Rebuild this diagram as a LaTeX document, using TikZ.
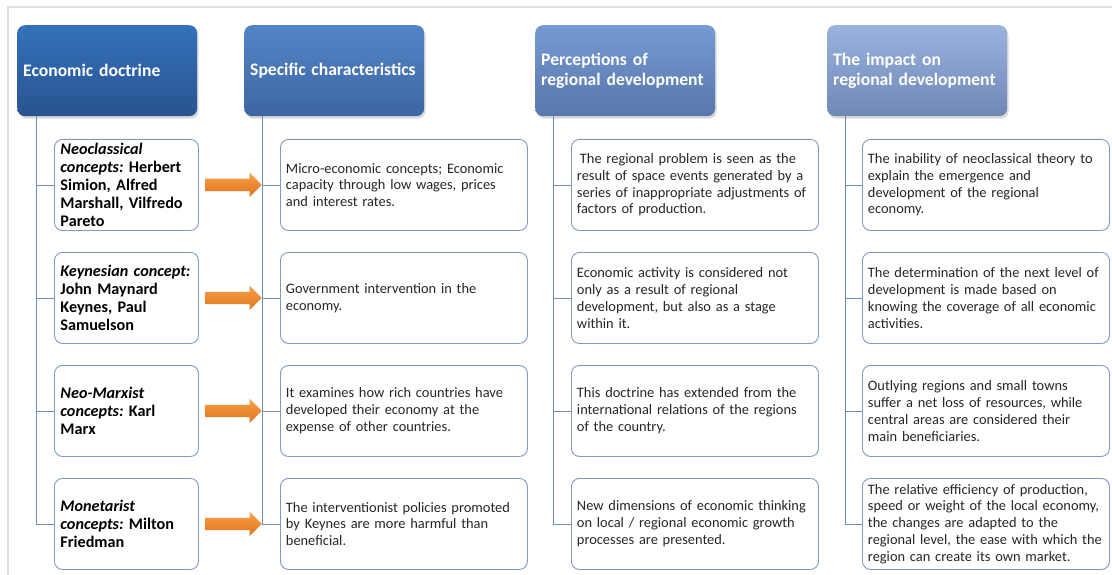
\documentclass[tikz,border=0pt]{standalone}
\usepackage{fontspec}
\setmainfont{Carlito}
\usetikzlibrary{shapes.arrows,shadows}

\definecolor{headone}{HTML}{3571BB}
\definecolor{headonedk}{HTML}{28548F}
\definecolor{headtwo}{HTML}{5384C6}
\definecolor{headtwodk}{HTML}{3D66A2}
\definecolor{headthree}{HTML}{759AD3}
\definecolor{headthreedk}{HTML}{5877AA}
\definecolor{headfour}{HTML}{99B2DE}
\definecolor{headfourdk}{HTML}{7088B6}
\definecolor{boxline}{HTML}{8199C2}
\definecolor{linkblue}{HTML}{6E8DC0}
\definecolor{pushlt}{HTML}{F8A04A}
\definecolor{pushdk}{HTML}{E0731B}

\frenchspacing
\begin{document}
\begin{tikzpicture}[x=1pt, y=-1pt,
  head/.style={rounded corners=8pt, minimum width=180pt, minimum height=91pt,
    text width=168pt, inner xsep=6pt, align=left, anchor=north west,
    text=white, font=\fontsize{17.6}{20.5}\selectfont\bfseries,
    drop shadow={shadow xshift=1.5pt, shadow yshift=-2.5pt, opacity=0.3}},
  school/.style={draw=boxline, line width=0.9pt, rounded corners=8pt, fill=white,
    minimum width=144pt, minimum height=91pt, text width=132pt, inner xsep=6pt,
    align=left, anchor=north west, font=\fontsize{16.2}{18}\selectfont\bfseries},
  item/.style={draw=boxline, line width=0.9pt, rounded corners=8pt, fill=white,
    minimum width=247pt, minimum height=91pt, text width=236pt, inner xsep=5.5pt,
    align=left, anchor=north west, text=black!85,
    font=\fontsize{14.4}{16.8}\selectfont},
  link/.style={draw=linkblue, line width=0.8pt},
  push/.style={single arrow, draw=none, anchor=tip, inner sep=6pt,
    single arrow head extend=6pt, minimum height=56pt,
    top color=pushlt, bottom color=pushdk}
]
  \useasboundingbox (0,0) rectangle (1112,575);
  \draw[black!12, line width=1.5pt] (1112,7) -- (8,7) -- (8,575);

  % column heads
  \node[head, top color=headone, bottom color=headonedk] (doctrine) at (17,25)
    {Economic doctrine};
  \node[head, top color=headtwo, bottom color=headtwodk] (traits) at (244,25)
    {Specific characteristics};
  \node[head, top color=headthree, bottom color=headthreedk] (views) at (535,25)
    {Perceptions of\\regional development};
  \node[head, top color=headfour, bottom color=headfourdk] (impact) at (827,25)
    {The impact on\\regional development};

  % doctrines
  \node[school] (d1) at (54,139) {\textit{Neoclassical}\\\textit{concepts:} Herbert\\Simion, Alfred\\Marshall, Vilfredo\\Pareto};
  \node[school] (d2) at (54,252) {\textit{Keynesian concept:}\\John Maynard\\Keynes, Paul\\Samuelson};
  \node[school] (d3) at (54,365) {\textit{Neo-Marxist}\\\textit{concepts:} Karl\\Marx};
  \node[school] (d4) at (54,478) {\textit{Monetarist}\\\textit{concepts:} Milton\\Friedman};

  % characteristics
  \node[item] (t1) at (280,139) {Micro-economic concepts; Economic\\capacity through low wages, prices\\and interest rates.};
  \node[item] (t2) at (280,252) {Government intervention in the\\economy.};
  \node[item] (t3) at (280,365) {It examines how rich countries have\\developed their economy at the\\expense of other countries.};
  \node[item] (t4) at (280,478) {The interventionist policies promoted\\by Keynes are more harmful than\\beneficial.};

  % perceptions
  \node[item] (v1) at (571,139) {\hspace{3pt}The regional problem is seen as the\\result of space events generated by a\\series of inappropriate adjustments of\\factors of production.};
  \node[item] (v2) at (571,252) {Economic activity is considered not\\only as a result of regional\\development, but also as a stage\\within it.};
  \node[item] (v3) at (571,365) {This doctrine has extended from the\\international relations of the regions\\of the country.};
  \node[item] (v4) at (571,478) {New dimensions of economic thinking\\on local / regional economic growth\\processes are presented.};

  % impact
  \node[item] (m1) at (862,139) {The inability of neoclassical theory to\\explain the emergence and\\development of the regional\\economy.};
  \node[item] (m2) at (862,252) {The determination of the next level of\\development is made based on\\knowing the coverage of all economic\\activities.};
  \node[item] (m3) at (862,365) {Outlying regions and small towns\\suffer a net loss of resources, while\\central areas are considered their\\main beneficiaries.};
  \node[item] (m4) at (862,478) {The relative efficiency of production,\\speed or weight of the local economy,\\the changes are adapted to the\\regional level, the ease with which the\\region can create its own market.};

  % spines and branches
  \coordinate (sd) at ([xshift=19pt]doctrine.south west);
  \coordinate (st) at ([xshift=18pt]traits.south west);
  \coordinate (sv) at ([xshift=18pt]views.south west);
  \coordinate (sm) at ([xshift=18pt]impact.south west);
  \foreach \s/\c in {sd/d, st/t, sv/v, sm/m} {
    \draw[link] (\s) |- (\c4.west);
    \foreach \r in {1,2,3}
      \draw[link] (\s |- \c\r.west) -- (\c\r.west);
  }

  % arrows
  \foreach \r in {1,2,3,4}
    \node[push] (p\r) at (st |- d\r.east) {};
\end{tikzpicture}
\end{document}
